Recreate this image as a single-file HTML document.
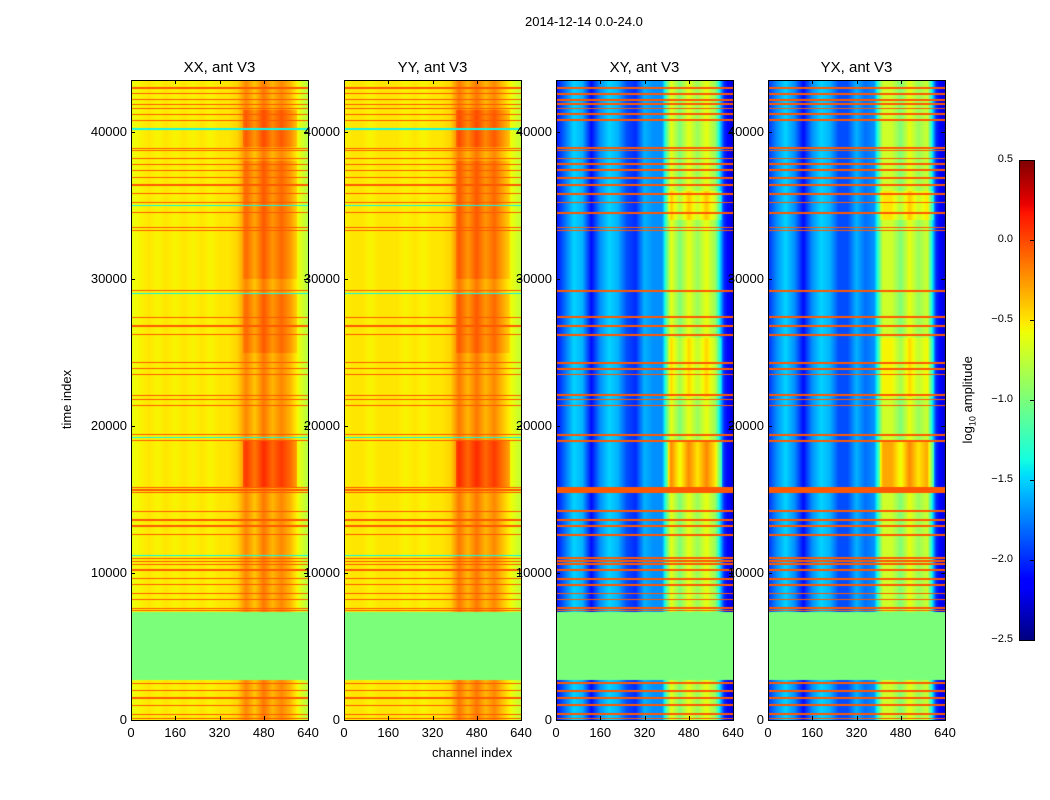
<!DOCTYPE html>
<html><head><meta charset="utf-8"><style>
body{margin:0;background:#fff;width:1050px;height:800px;position:relative;font-family:"Liberation Sans",sans-serif;overflow:hidden}
.t{position:absolute;font-size:13px;color:#000;white-space:nowrap}
canvas{position:absolute}
.fr{position:absolute;border:1px solid #000;box-sizing:border-box}
.tk{position:absolute;background:#000}
</style></head><body>
<div class="t" style="left:525px;top:14px">2014-12-14 0.0-24.0</div>
<div class="t" style="left:432px;top:745px">channel index</div>
<div class="t" style="left:37px;top:392px;transform:rotate(-90deg)">time index</div>
<div class="t" style="left:925px;top:391px;transform:rotate(-90deg)">log<sub style="font-size:9px">10</sub> amplitude</div>
<div id="root"></div>
<script>
const panelTitles=["XX, ant V3","YY, ant V3","XY, ant V3","YX, ant V3"];
const xTicks=[0,160,320,480,640];
const yTicks=[0,10000,20000,30000,40000];
const cbTicks=[0.5,0.0,-0.5,-1.0,-1.5,-2.0,-2.5];
const profXX=[-0.6,-0.55,-0.5,-0.55,-0.5,-0.55,-0.5,-0.55,-0.5,-0.55,-0.5,-0.5,-0.45,-0.2,-0.4,-0.15,-0.35,-0.2,-0.35,-0.6,-0.8];
const profYY=[-0.55,-0.5,-0.5,-0.55,-0.5,-0.5,-0.5,-0.55,-0.5,-0.55,-0.5,-0.5,-0.45,-0.15,-0.35,-0.15,-0.35,-0.2,-0.4,-0.6,-0.75];
const profXY=[-2.1,-1.8,-1.5,-1.6,-2.1,-1.7,-1.5,-1.6,-1.9,-2.0,-1.6,-1.7,-1.7,-0.6,-1.0,-0.6,-0.9,-0.6,-0.9,-2.0,-2.3];
const profYX=[-2.0,-1.7,-1.5,-1.7,-2.1,-1.7,-1.5,-1.6,-1.9,-1.9,-1.6,-1.8,-1.7,-0.7,-0.7,-1.0,-0.6,-0.9,-0.7,-2.0,-2.3];
const segXX=[[15800,19000,0.25],[25000,29000,0.1],[30000,38000,0.1],[39000,41500,0.15]];
const segXY=[[15800,19000,0.4],[22000,26000,0.15],[34000,36000,0.2]];
const redLines=[43000,42600,42200,41900,41600,41200,40800,38900,38750,38200,37800,37400,36900,36400,35800,35200,34500,33500,33300,29200,27400,26800,26200,24300,23900,23500,22100,21800,21400,19400,19000,15800,15650,15500,14200,13600,13200,12600,11000,10800,10600,10200,9600,9200,8600,8200,7600,7450,2500,2000,1500,1000,400,100];
const cyanLines=[40200,35000,29000,19200,11200];
const flagBlock=[2700,7350];
const T0=0,T1=43540,C1=640,VMIN=-2.5,VMAX=0.5;
const panelX=[131,344,556,768],PW=177,PY=80,PH=640;
const profs=[profXX,profYY,profXY,profYX],segs=[segXX,segXX,segXY,segXY];
const JR=[[0,0],[0.35,0],[0.66,1],[0.89,1],[1,0.5]];
const JG=[[0,0],[0.125,0],[0.375,1],[0.64,1],[0.91,0],[1,0]];
const JB=[[0,0.5],[0.11,1],[0.34,1],[0.65,0],[1,0]];
function seg(s,f){for(let i=0;i<s.length-1;i++){if(f<=s[i+1][0]){const a=s[i],b=s[i+1];return a[1]+(b[1]-a[1])*(f-a[0])/(b[0]-a[0]);}}return s[s.length-1][1];}
function jet(v){let f=(v-VMIN)/(VMAX-VMIN);f=Math.max(0,Math.min(1,f));
 return [seg(JR,f)*255,seg(JG,f)*255,seg(JB,f)*255];}
function yOf(t){return PY+PH-(t-T0)/(T1-T0)*PH}
const root=document.getElementById('root');
function mk(tag,name,css,txt){const e=document.createElement(tag);
 
 
 if(css)e.style.cssText=css; if(txt!=null)e.textContent=txt; root.appendChild(e); return e;}
for(let p=0;p<4;p++){
 const X=panelX[p];
 const cv=mk('canvas','heatmap-'+panelTitles[p].slice(0,2).toLowerCase(),`left:${X}px;top:${PY}px`);
 cv.width=PW;cv.height=PH;const ctx=cv.getContext('2d');const im=ctx.createImageData(PW,PH);
 const pr=profs[p],sg=segs[p];const dt=(T1-T0)/PH;
 for(let y=0;y<PH;y++){const t=T1-(y+0.5)*dt;
  let line=null;
  for(const l of redLines)if(Math.abs(l-t)<dt*(p<2?0.6:0.9))line=-0.05;
  if(p<2)for(const l of cyanLines)if(Math.abs(l-t)<dt*0.6)line=-1.4;
  let off=0;for(const s of sg)if(t>=s[0]&&t<=s[1])off=s[2];
  for(let x=0;x<PW;x++){const ch=(x+0.5)/PW*C1;let v;
   if(t>=flagBlock[0]&&t<=flagBlock[1])v=-1.0;
   else if(line!==null)v=line;
   else{const fi=ch/32,i=Math.min(19,Math.floor(fi)),fr=fi-i;v=pr[i]*(1-fr)+pr[i+1]*fr;if(ch>405&&ch<600)v+=off;}
   const c=jet(v),k=(y*PW+x)*4;im.data[k]=c[0];im.data[k+1]=c[1];im.data[k+2]=c[2];im.data[k+3]=255;}}
 ctx.putImageData(im,0,0);
 mk('div','panel-frame-'+p,`left:${X}px;top:${PY}px;width:${PW+1}px;height:${PH+1}px`).className='fr';
 mk('div','panel-title-'+p,`left:${X}px;width:${PW}px;text-align:center;top:59px;font-size:15px`,panelTitles[p]).className='t';
 xTicks.forEach(v=>{const x=X+v/C1*PW;
  mk('div','x-tick-'+v,`left:${x}px;top:${PY+PH-4}px;width:1px;height:4px`).className='tk';
  mk('div','x-tick-top-'+v,`left:${x}px;top:${PY}px;width:1px;height:4px`).className='tk';
  mk('div','x-tick-label-'+v,`left:${x-20}px;width:40px;text-align:center;top:725px`,v).className='t';});
 yTicks.forEach(v=>{const y=yOf(v);
  mk('div','y-tick-'+v,`left:${X}px;top:${y}px;width:4px;height:1px`).className='tk';
  mk('div','y-tick-r-'+v,`left:${X+PW-4}px;top:${y}px;width:4px;height:1px`).className='tk';
  mk('div','y-tick-label-'+v,`left:${X-64}px;width:60px;text-align:right;top:${y-8}px`,v).className='t';});
}
const cb=mk('canvas','colorbar',`left:1019px;top:160px`);cb.width=15;cb.height=480;
const cx=cb.getContext('2d');for(let y=0;y<480;y++){const v=VMAX-(y+0.5)/480*(VMAX-VMIN);const c=jet(v);cx.fillStyle=`rgb(${c[0]|0},${c[1]|0},${c[2]|0})`;cx.fillRect(0,y,15,1);}
mk('div','colorbar-frame','left:1019px;top:160px;width:16px;height:481px').className='fr';
cbTicks.forEach(v=>{const y=160+(VMAX-v)/(VMAX-VMIN)*480;
 mk('div','cb-tick-'+v,`left:1030px;top:${y}px;width:4px;height:1px`).className='tk';
 mk('div','cb-tick-label-'+v,`left:973px;width:40px;text-align:right;top:${y-7}px;font-size:11px`,v.toFixed(1).replace('-','\u2212')).className='t';});
</script>
</body></html>
